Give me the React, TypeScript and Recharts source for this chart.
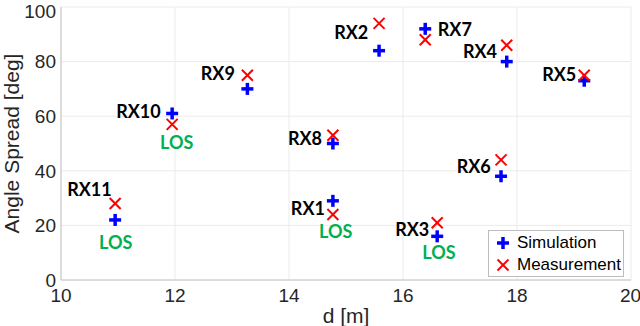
import React from "react";
import {
  ScatterChart,
  Scatter,
  XAxis,
  YAxis,
  CartesianGrid,
  Label,
} from "recharts";

// receiver positions and measured/simulated angle spread
const receivers = ["RX1", "RX2", "RX3", "RX4", "RX5", "RX6", "RX7", "RX8", "RX9", "RX10", "RX11"];
const distance = [14.77, 15.58, 16.6, 17.82, 19.18, 17.72, 16.39, 14.77, 13.27, 11.95, 10.95];
const simulation = [29, 84, 16, 80, 73, 38, 92, 50, 70, 61, 22];
const measurement = [24, 94, 21, 86, 75, 44, 88, 53, 75, 57, 28];

// text annotations (data coords, like matlab text())
const labelX = [14.63, 15.39, 16.46, 17.65, 19.04, 17.54, 16.61, 14.58, 13.05, 11.75, 10.89];
const labelY = [26.4, 91, 18.7, 84, 75.5, 41.8, 92, 52, 76, 62, 33.3];
const labelAnchor = ["end", "end", "end", "end", "end", "end", "start", "end", "end", "end", "end"];

const losX = [14.82, 16.63, 12.03, 10.96];
const losY = [18, 10.3, 50.5, 14];

const xTicks = [10, 12, 14, 16, 18, 20];
const yTicks = [0, 20, 40, 60, 80, 100];

const simData = receivers.map((r, i) => ({ x: distance[i], y: simulation[i], name: r }));
const measData = receivers.map((r, i) => ({ x: distance[i], y: measurement[i], name: r }));
const rxLabels = receivers.map((r, i) => ({ x: labelX[i], y: labelY[i], text: r, anchor: labelAnchor[i] }));
const losLabels = losX.map((x, i) => ({ x, y: losY[i], text: "LOS" }));

const BLUE = "#0000ff";
const RED = "#ff0000";
const GREEN = "#00b050";
const tickFont = "'Liberation Sans', Arial, sans-serif";
const boldFont = "Lato, 'Noto Sans', sans-serif";

const PlusMark = (props: any) => {
  const { cx, cy } = props;
  if (cx == null || cy == null) return null;
  return (
    <g stroke={BLUE} strokeWidth={3.5}>
      <line x1={cx - 6} y1={cy} x2={cx + 6} y2={cy} />
      <line x1={cx} y1={cy - 6} x2={cx} y2={cy + 6} />
    </g>
  );
};

const CrossMark = (props: any) => {
  const { cx, cy } = props;
  if (cx == null || cy == null) return null;
  return (
    <g stroke={RED} strokeWidth={2}>
      <line x1={cx - 5.5} y1={cy - 5.5} x2={cx + 5.5} y2={cy + 5.5} />
      <line x1={cx - 5.5} y1={cy + 5.5} x2={cx + 5.5} y2={cy - 5.5} />
    </g>
  );
};

const RxText = (props: any) => {
  const { cx, cy, payload } = props;
  if (cx == null || cy == null) return null;
  return (
    <text x={cx} y={cy} textAnchor={payload.anchor} dominantBaseline="central"
      fontFamily={boldFont} fontWeight={700} fontSize={18} fill="#000">
      {payload.text}
    </text>
  );
};

const LosText = (props: any) => {
  const { cx, cy, payload } = props;
  if (cx == null || cy == null) return null;
  return (
    <text x={cx} y={cy} textAnchor="middle" dominantBaseline="central"
      fontFamily={boldFont} fontWeight={700} fontSize={18} fill={GREEN}>
      {payload.text}
    </text>
  );
};

const legendItems = [
  { name: "Simulation", mark: "plus" },
  { name: "Measurement", mark: "cross" },
];

export default function App() {
  return (
    <div style={{ position: "absolute", left: 0, top: 0, width: 640, height: 326, background: "#fff" }}>
      <ScatterChart width={640} height={326} margin={{ top: 7, right: 9, left: 0, bottom: 0 }}>
        <CartesianGrid stroke="#ebebeb" strokeWidth={1} />
        <XAxis
          type="number"
          dataKey="x"
          domain={[10, 20]}
          ticks={xTicks}
          height={46}
          tickLine={false}
          axisLine={{ stroke: "#c4c4c4" }}
          tick={{ fontFamily: tickFont, fontSize: 19, fill: "#262626" }}
          tickMargin={4}
          tickSize={5}
        >
          <Label
            content={({ viewBox }: any) => (
              <text x={viewBox.x + viewBox.width / 2} y={323} textAnchor="middle"
                fontFamily={tickFont} fontSize={21} fill="#262626">
                d [m]
              </text>
            )}
          />
        </XAxis>
        <YAxis
          type="number"
          dataKey="y"
          domain={[0, 100]}
          ticks={yTicks}
          width={61}
          tickLine={false}
          axisLine={{ stroke: "#c4c4c4" }}
          tick={{ fontFamily: tickFont, fontSize: 19, fill: "#262626" }}
          tickMargin={0}
          tickSize={5}
        >
          <Label
            content={({ viewBox }: any) => {
              const cx = 11;
              const cy = viewBox.y + viewBox.height / 2;
              return (
                <text x={cx} y={cy} textAnchor="middle" dominantBaseline="central"
                  transform={`rotate(-90 ${cx} ${cy})`}
                  fontFamily={tickFont} fontSize={21} fill="#262626">
                  Angle Spread [deg]
                </text>
              );
            }}
          />
        </YAxis>
        <Scatter name="Simulation" data={simData} shape={PlusMark} isAnimationActive={false} />
        <Scatter name="Measurement" data={measData} shape={CrossMark} isAnimationActive={false} />
        <Scatter name="rx" data={rxLabels} shape={RxText} isAnimationActive={false} />
        <Scatter name="los" data={losLabels} shape={LosText} isAnimationActive={false} />
      </ScatterChart>
      <div
        style={{
          position: "absolute",
          left: 488,
          top: 230,
          width: 134,
          height: 45,
          border: "1px solid #bdbdbd",
          background: "#fff",
          fontFamily: tickFont,
          fontSize: 17,
          color: "#000",
        }}
      >
        {legendItems.map((item, i) => (
          <div key={item.name} style={{ position: "absolute", left: 0, top: i * 22 + 1, height: 22, display: "flex", alignItems: "center" }}>
            <svg width={28} height={22}>
              {item.mark === "plus" ? <PlusMark cx={14} cy={11} /> : <CrossMark cx={14} cy={11} />}
            </svg>
            <span style={{ lineHeight: "22px" }}>{item.name}</span>
          </div>
        ))}
      </div>
    </div>
  );
}
